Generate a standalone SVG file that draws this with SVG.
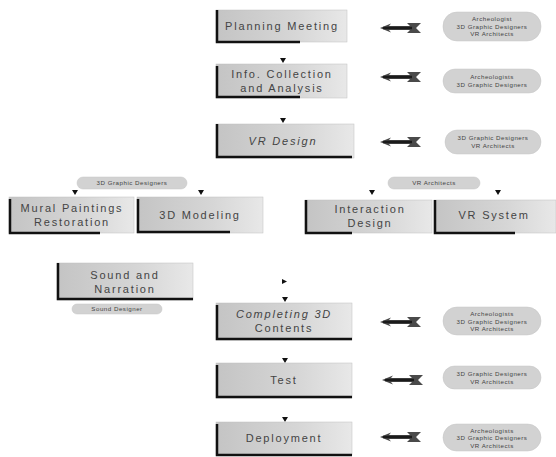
<svg xmlns="http://www.w3.org/2000/svg" width="556" height="457" viewBox="0 0 556 457">
<defs>
<linearGradient id="bg" x1="0" y1="0" x2="1" y2="0">
<stop offset="0" stop-color="#c4c4c4"/>
<stop offset="0.6" stop-color="#d6d6d6"/>
<stop offset="1" stop-color="#e8e8e8"/>
</linearGradient>
<g id="bigarrow">
<path d="M0,5 L11,0.5 L9,3 L30,3 L27,0 L41,0 L36,5 L41,10 L27,10 L30,7 L9,7 L11,9.5 Z" fill="#4a4a4a"/>
<path d="M3,5 L32,5" stroke="#1a1a1a" stroke-width="2.5"/>
</g>
</defs>
<style>
.box{fill:url(#bg);stroke:#c0c0c0;stroke-width:0.5}
.edge{fill:none;stroke:#111;stroke-width:2.5}
.t{font-family:"Liberation Sans",Arial,sans-serif;font-size:11px;letter-spacing:1.8px;fill:#444;text-anchor:middle}
.pill{fill:#d2d2d2;stroke:#c4c4c4;stroke-width:0.5}
.p{font-family:"Liberation Sans",Arial,sans-serif;font-size:6.2px;letter-spacing:0.5px;fill:#444;text-anchor:middle}
.tri{fill:#111}
</style>
<rect width="556" height="457" fill="#fff"/>

<g id="connectors">
<path class="tri" d="M280,58 L286,58 L283,63 Z"/>
<path class="tri" d="M280,118 L286,118 L283,123 Z"/>
<path class="tri" d="M72,190 L78,190 L75,195 Z"/>
<path class="tri" d="M198,190 L204,190 L201,195 Z"/>
<path class="tri" d="M369,190 L375,190 L372,195 Z"/>
<path class="tri" d="M495,190 L501,190 L498,195 Z"/>
<path class="tri" d="M282,279 L287,281.5 L282,284 Z"/>
<path class="tri" d="M282,297 L288,297 L285,302 Z"/>
<path class="tri" d="M282,358 L288,358 L285,363 Z"/>
<path class="tri" d="M282,417 L288,417 L285,422 Z"/>
<use href="#bigarrow" x="380" y="23"/>
<use href="#bigarrow" x="380" y="72"/>
<use href="#bigarrow" x="380" y="137"/>
<use href="#bigarrow" x="380" y="317"/>
<use href="#bigarrow" x="382" y="375"/>
<use href="#bigarrow" x="380" y="432"/>
</g>

<g id="planning">
<rect class="box" x="216" y="10" width="131" height="32"/>
<path class="edge" d="M217,10 V42 H300"/>
<text class="t" x="282" y="30">Planning Meeting</text>
</g>
<g id="info">
<rect class="box" x="216" y="64" width="131" height="34"/>
<path class="edge" d="M217,66 V97 H300"/>
<text class="t" x="282" y="78">Info. Collection</text>
<text class="t" x="282" y="92">and Analysis</text>
</g>
<g id="vrdesign">
<rect class="box" x="216" y="124" width="138" height="34"/>
<path class="edge" d="M217,124 V157 H352"/>
<text class="t" x="283" y="145" font-style="italic">VR Design</text>
</g>
<g id="mural">
<rect class="box" x="9" y="197" width="125" height="36"/>
<path class="edge" d="M10,199 V233 H100"/>
<text class="t" x="72" y="212">Mural Paintings</text>
<text class="t" x="72" y="226">Restoration</text>
</g>
<g id="modeling">
<rect class="box" x="137" y="197" width="126" height="36"/>
<path class="edge" d="M138,199 V232 H230"/>
<text class="t" x="200" y="219">3D Modeling</text>
</g>
<g id="interaction">
<rect class="box" x="305" y="200" width="127" height="33"/>
<path class="edge" d="M306,200 V233 H352"/>
<text class="t" x="370" y="213">Interaction</text>
<text class="t" x="370" y="227">Design</text>
</g>
<g id="vrsystem">
<rect class="box" x="434" y="200" width="122" height="33"/>
<path class="edge" d="M435,200 V233 H515"/>
<text class="t" x="494" y="219">VR System</text>
</g>
<g id="sound">
<rect class="box" x="57" y="263" width="136" height="37"/>
<path class="edge" d="M58,263 V299 H193"/>
<text class="t" x="125" y="279">Sound and</text>
<text class="t" x="125" y="293">Narration</text>
</g>
<g id="completing">
<rect class="box" x="216" y="303" width="136" height="37"/>
<path class="edge" d="M217,305 V339 H352"/>
<text class="t" x="284" y="318" font-style="italic">Completing 3D</text>
<text class="t" x="284" y="332">Contents</text>
</g>
<g id="test">
<rect class="box" x="216" y="363" width="136" height="35"/>
<path class="edge" d="M217,365 V397 H352"/>
<text class="t" x="284" y="384">Test</text>
</g>
<g id="deployment">
<rect class="box" x="216" y="422" width="136" height="33"/>
<path class="edge" d="M217,424 V455 H352"/>
<text class="t" x="284" y="442">Deployment</text>
</g>

<g id="pill-planning">
<rect class="pill" x="443" y="12" width="98" height="29" rx="14"/>
<text class="p" x="492" y="21">Archeologist</text>
<text class="p" x="492" y="28.5">3D Graphic Designers</text>
<text class="p" x="492" y="36">VR Architects</text>
</g>
<g id="pill-info">
<rect class="pill" x="443" y="69" width="98" height="24" rx="12"/>
<text class="p" x="492" y="79">Archeologists</text>
<text class="p" x="492" y="86.5">3D Graphic Designers</text>
</g>
<g id="pill-vrdesign">
<rect class="pill" x="445" y="130" width="96" height="24" rx="12"/>
<text class="p" x="493" y="140">3D Graphic Designers</text>
<text class="p" x="493" y="147.5">VR Architects</text>
</g>
<g id="pill-3dg">
<rect class="pill" x="77" y="177" width="110" height="12" rx="6"/>
<text class="p" x="132" y="185">3D Graphic Designers</text>
</g>
<g id="pill-vra">
<rect class="pill" x="388" y="177" width="92" height="12" rx="6"/>
<text class="p" x="434" y="185">VR Architects</text>
</g>
<g id="pill-sound">
<rect class="pill" x="72" y="304" width="90" height="10" rx="5"/>
<text class="p" x="117" y="311">Sound Designer</text>
</g>
<g id="pill-completing">
<rect class="pill" x="443" y="307" width="98" height="28" rx="14"/>
<text class="p" x="492" y="316">Archeologists</text>
<text class="p" x="492" y="323.5">3D Graphic Designers</text>
<text class="p" x="492" y="331">VR Architects</text>
</g>
<g id="pill-test">
<rect class="pill" x="443" y="366" width="98" height="23" rx="11.5"/>
<text class="p" x="492" y="376">3D Graphic Designers</text>
<text class="p" x="492" y="383.5">VR Architects</text>
</g>
<g id="pill-deploy">
<rect class="pill" x="443" y="424" width="98" height="27" rx="13.5"/>
<text class="p" x="492" y="432.5">Archeologists</text>
<text class="p" x="492" y="440">3D Graphic Designers</text>
<text class="p" x="492" y="447.5">VR Architects</text>
</g>
</svg>
